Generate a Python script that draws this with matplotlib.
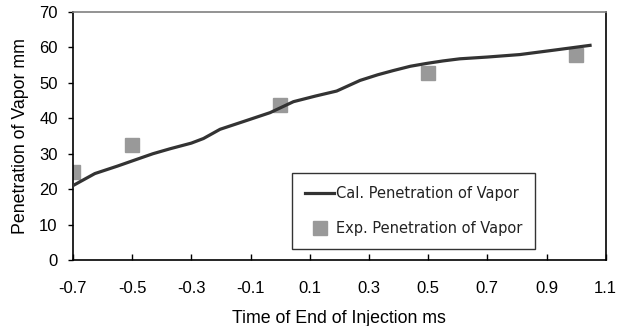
import matplotlib
matplotlib.use("Agg")
import matplotlib.pyplot as plt

plt.rcParams['font.family'] = ['Liberation Sans', 'DejaVu Sans']

cal_x = [-0.70, -0.626, -0.55, -0.485, -0.43, -0.372, -0.30, -0.259, -0.203, -0.12, -0.034,
         0.045, 0.12, 0.191, 0.27, 0.33, 0.383, 0.44, 0.495, 0.55, 0.607, 0.70, 0.81, 0.93, 1.047]
cal_y = [21.0, 24.4, 26.5, 28.4, 30.0, 31.4, 33.0, 34.3, 36.9, 39.2, 41.6,
         44.7, 46.3, 47.7, 50.7, 52.3, 53.5, 54.7, 55.5, 56.2, 56.8, 57.3, 58.0, 59.3, 60.6]

exp_x = [-0.7, -0.5, 0.0, 0.5, 1.0]
exp_y = [24.9, 32.4, 43.7, 52.8, 58.0]

xticks = [-0.7, -0.5, -0.3, -0.1, 0.1, 0.3, 0.5, 0.7, 0.9, 1.1]
xtick_labels = ["-0.7", "-0.5", "-0.3", "-0.1", "0.1", "0.3", "0.5", "0.7", "0.9", "1.1"]
yticks = [0, 10, 20, 30, 40, 50, 60, 70]

fig = plt.figure(figsize=(6.29, 3.26), dpi=100)
ax = fig.add_axes([0.116, 0.2025, 0.847, 0.7605])

ax.plot(cal_x, cal_y, color='#333333', lw=2.3, label='Cal. Penetration of Vapor', zorder=3)
ax.plot(exp_x, exp_y, ls='none', marker='s', ms=9.5, color='#999999', mec='#999999',
        label='Exp. Penetration of Vapor', zorder=2)

ax.set_xlim(-0.7, 1.1)
ax.set_ylim(0, 70)
ax.set_xticks(xticks)
ax.set_xticklabels(xtick_labels)
ax.set_yticks(yticks)

ax.tick_params(axis='x', direction='in', length=4, width=1, labelsize=12, pad=15)
ax.tick_params(axis='y', direction='out', length=3.5, width=1, labelsize=12, pad=7.5)

for s in ['left', 'bottom', 'right']:
    ax.spines[s].set_color('black')
    ax.spines[s].set_linewidth(1.2)
ax.spines['top'].set_color('#808080')
ax.spines['top'].set_linewidth(1.2)

ax.set_xlabel('Time of End of Injection ms', fontsize=12.8, labelpad=10)
ax.set_ylabel('Penetration of Vapor mm', fontsize=12.8, labelpad=7)

leg = ax.legend(loc='lower right', bbox_to_anchor=(0.868, 0.044), borderaxespad=0,
                prop={'family': 'DejaVu Sans', 'size': 10.5},
                frameon=True, fancybox=False, edgecolor='black', handlelength=2.0,
                labelspacing=1.35, borderpad=0.9, handletextpad=0.1, markerscale=1.0)
leg.get_frame().set_linewidth(1.0)
for t in leg.get_texts():
    t.set_color('#222222')

fig.savefig('out.png', dpi=100)
